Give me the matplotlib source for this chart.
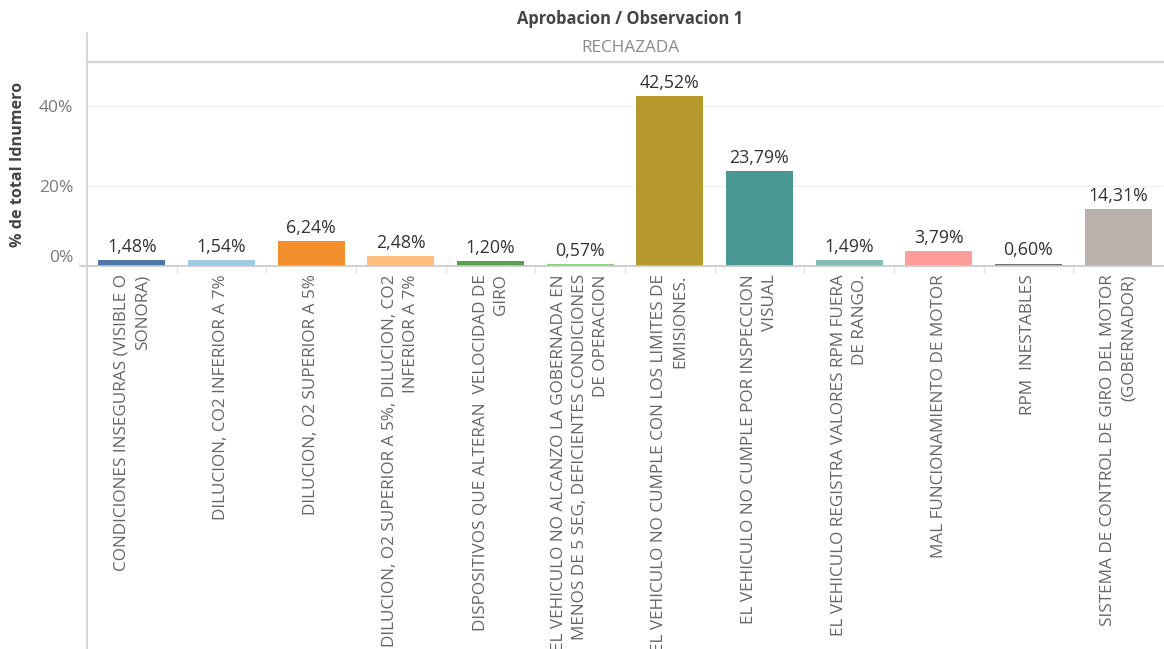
import matplotlib
matplotlib.use("Agg")
import numpy as np
import matplotlib.pyplot as plt
from matplotlib.lines import Line2D
import matplotlib.transforms as mtransforms

plt.rcParams.update({
    "font.family": ["Open Sans", "DejaVu Sans"],
})

# data
categories = [
    "CONDICIONES INSEGURAS (VISIBLE O\nSONORA)",
    "DILUCION, CO2 INFERIOR A 7%",
    "DILUCION, O2 SUPERIOR A 5%",
    "DILUCION, O2 SUPERIOR A 5%, DILUCION, CO2\nINFERIOR A 7%",
    "DISPOSITIVOS QUE ALTERAN  VELOCIDAD DE\nGIRO",
    "EL VEHICULO NO ALCANZO LA GOBERNADA EN\nMENOS DE 5 SEG, DEFICIENTES CONDICIONES\nDE OPERACION",
    "EL VEHICULO NO CUMPLE CON LOS LIMITES DE\nEMISIONES.",
    "EL VEHICULO NO CUMPLE POR INSPECCION\nVISUAL",
    "EL VEHICULO REGISTRA VALORES RPM FUERA\nDE RANGO.",
    "MAL FUNCIONAMIENTO DE MOTOR",
    "RPM  INESTABLES",
    "SISTEMA DE CONTROL DE GIRO DEL MOTOR\n(GOBERNADOR)",
]
pct = [1.48, 1.54, 6.24, 2.48, 1.20, 0.57, 42.52, 23.79, 1.49, 3.79, 0.60, 14.31]
colors = ["#4e79a7", "#a0cbe8", "#f28e2b", "#ffbe7d", "#59a14f", "#8cd17d",
          "#b6992d", "#499894", "#86bcb6", "#ff9d9a", "#79706e", "#bab0ac"]
yticks = [0, 20, 40]

W, H = 1164, 649
fig = plt.figure(figsize=(W / 100, H / 100), dpi=100)
L, R, B, T = 87, 1163, 266, 62
ax = fig.add_axes([L / W, 1 - B / H, (R - L) / W, (B - T) / H])

x = np.arange(len(pct))
ax.bar(x, pct, 0.75, color=colors, zorder=3)
for xi, v in zip(x, pct):
    ax.annotate(f"{v:.2f}%".replace(".", ","), xy=(xi, v), xytext=(0, 3),
                textcoords="offset points", ha="center", va="bottom",
                fontsize=12.8, color="#333333")

ax.set_xlim(-0.5, len(pct) - 0.5)
ax.set_ylim(0, 51)
ax.set_yticks(yticks)
ax.set_yticklabels([f"{t}%" for t in yticks], fontsize=12.5, color="#7a7a7a")
ax.get_yticklabels()[0].set_verticalalignment("bottom")
ax.tick_params(axis="y", length=0, pad=10)
ax.yaxis.grid(True, color="#f0f0f0", lw=1.0, zorder=0)

ax.set_xticks(x)
ax.set_xticklabels(categories, rotation=90, ha="center", va="top",
                   multialignment="right", linespacing=1.4,
                   fontsize=12.3, color="#666666")
ax.tick_params(axis="x", length=0, pad=6)

for s in ("left", "right", "bottom"):
    ax.spines[s].set_visible(False)
ax.spines["top"].set_color("#d6d6d6")
ax.spines["top"].set_linewidth(1.6)

# category separators below the baseline
trans = mtransforms.blended_transform_factory(ax.transData, ax.transAxes)
ax.vlines(x[:-1] + 0.5, -0.035, 0, transform=trans, color="#e4e4e4",
          lw=1.0, clip_on=False)

# zero line and left pane border
fig.add_artist(Line2D([80 / W, R / W], [1 - B / H, 1 - B / H],
                      color="#c8c8c8", lw=1.2))
fig.add_artist(Line2D([L / W, L / W], [0, 1 - 33 / H], color="#d0d0d0", lw=1.2))

fig.text(630 / W, 1 - 19 / H, "Aprobacion / Observacion 1", ha="center",
         va="center", fontsize=11.9, fontweight="bold", color="#444444")
fig.text(630 / W, 1 - 48 / H, "RECHAZADA", ha="center", va="center",
         fontsize=12.3, color="#8a8a8a")
fig.text(18 / W, 1 - 164 / H, "% de total Idnumero", rotation=90, ha="center",
         va="center", fontsize=11.6, fontweight="bold", color="#444444")

fig.savefig("out.png", dpi=100, facecolor="white")
